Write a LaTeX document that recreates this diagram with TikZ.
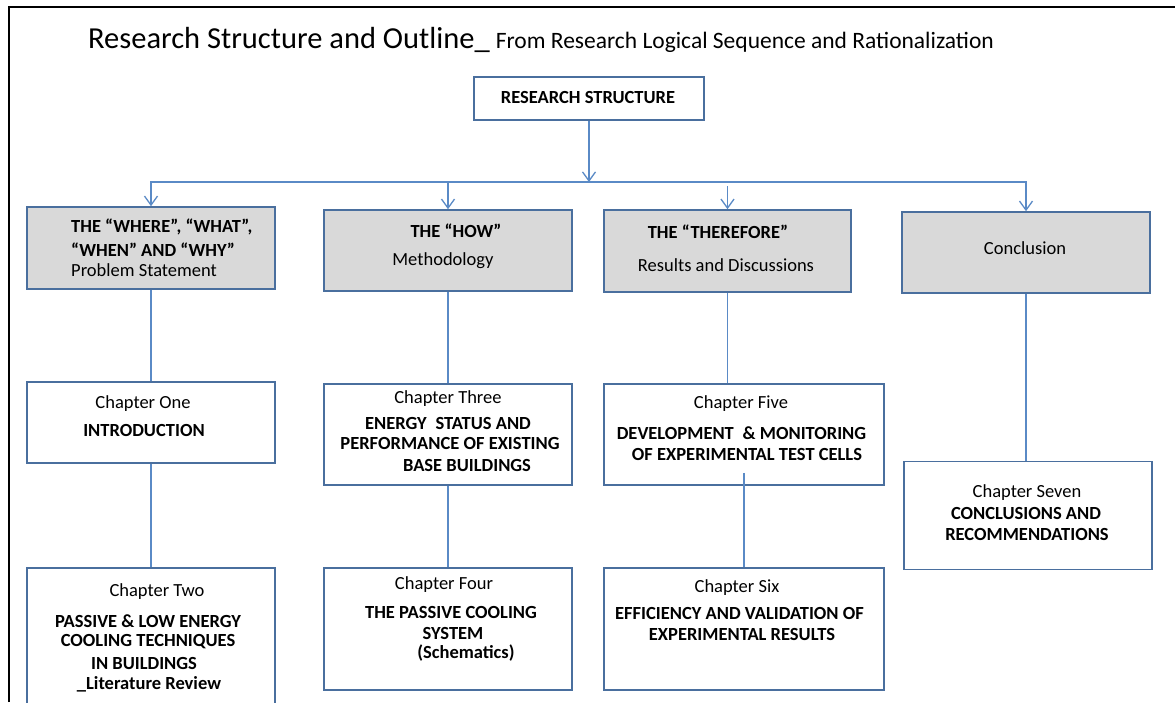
\documentclass[tikz,border=0pt]{standalone}
\usepackage{fontspec}
\setmainfont{Carlito}
\usetikzlibrary{arrows.meta}
\definecolor{boxline}{HTML}{4A6F9E}
\definecolor{connc}{HTML}{5A8AC6}
\definecolor{boxfill}{HTML}{D9D9D9}
\begin{document}
\begin{tikzpicture}[x=1pt,y=-1pt,
  box/.style={draw=boxline, line width=1.6pt, inner sep=0pt},
  gbox/.style={box, fill=boxfill},
  tn/.style={inner sep=0pt, font=\fontsize{18.5}{22}\selectfont},
  tb/.style={inner sep=0pt, font=\fontsize{18.5}{22}\selectfont\bfseries},
  conn/.style={draw=connc, line width=1.3pt},
  tip/.tip={Straight Barb[length=9pt,width=13pt]}]
\useasboundingbox (0,0) rectangle (1175,702);
\clip (0,0) rectangle (1175,702);
\fill[white] (0,0) rectangle (1175,702);
% frame
\draw[line width=2.5pt, black] (9,702) -- (9,7) -- (1175,7);
% title
\node[inner sep=0pt, anchor=base west] (title) at (88,48)
  {{\fontsize{30.5}{34}\selectfont Research Structure and Outline\_}\hspace{6pt}{\fontsize{23.5}{28}\selectfont From Research Logical Sequence and Rationalization}};
% boxes
\node[box, minimum width=230pt, minimum height=43pt] (rs) at (589,98.5) {};
\node[gbox, minimum width=248pt, minimum height=82pt] (b1) at (151,248) {};
\node[gbox, minimum width=248pt, minimum height=81pt] (b2) at (448,250.5) {};
\node[gbox, minimum width=247pt, minimum height=82pt] (b3) at (727.5,251) {};
\node[gbox, minimum width=248pt, minimum height=81pt] (b4) at (1026,252.5) {};
\node[box, minimum width=248pt, minimum height=81pt] (ch1) at (151,422.5) {};
\node[box, minimum width=248pt, minimum height=101pt] (ch3) at (448,434.5) {};
\node[box, minimum width=280pt, minimum height=101pt] (ch5) at (744,434.5) {};
\node[box, minimum width=248pt, minimum height=108pt] (ch7) at (1028,515.5) {};
\node[box, minimum width=248pt, minimum height=144pt] (ch2) at (151,640) {};
\node[box, minimum width=248pt, minimum height=122pt] (ch4) at (448,629) {};
\node[box, minimum width=280pt, minimum height=122pt] (ch6) at (744,629) {};
% texts
\node[tb] (rst) at (588,97) {RESEARCH STRUCTURE};
\node[tb, anchor=west] (b1a) at (71,227) {THE “WHERE”, “WHAT”,};
\node[tb, anchor=west] (b1b) at (71,250) {“WHEN” AND “WHY”};
\node[tn, anchor=west] (b1c) at (71,270) {Problem Statement};
\node[tb] (b2a) at (456,231) {THE “HOW”};
\node[tn] (b2b) at (443,261) {Methodology};
\node[tb] (b3a) at (718,232) {THE “THEREFORE”};
\node[tn] (b3b) at (726,265) {Results and Discussions};
\node[tn] (b4a) at (1025,248) {Conclusion};
\node[tn] (c1a) at (143,404) {Chapter One};
\node[tb] (c1b) at (144,430) {INTRODUCTION};
\node[tn] (c3a) at (448,399) {Chapter Three};
\node[tb] (c3b) at (448,423) {ENERGY\hspace{0.25em} STATUS AND};
\node[tb] (c3c) at (450,443) {PERFORMANCE OF EXISTING};
\node[tb] (c3d) at (467,465) {BASE BUILDINGS};
\node[tn] (c5a) at (741,404) {Chapter Five};
\node[tb] (c5b) at (741.5,433) {DEVELOPMENT\hspace{0.25em} \& MONITORING};
\node[tb] (c5c) at (747,454) {OF EXPERIMENTAL TEST CELLS};
\node[tn] (c7a) at (1027,493) {Chapter Seven};
\node[tb] (c7b) at (1026,513) {CONCLUSIONS AND};
\node[tb] (c7c) at (1027,534) {RECOMMENDATIONS};
\node[tn] (c2a) at (157,592) {Chapter Two};
\node[tb] (c2b) at (148,621) {PASSIVE \& LOW ENERGY};
\node[tb] (c2c) at (148,642) {COOLING TECHNIQUES};
\node[tb] (c2d) at (144,663) {IN BUILDINGS};
\node[tb] (c2e) at (149,684) {\_Literature Review};
\node[tn] (c4a) at (444,585) {Chapter Four};
\node[tb] (c4b) at (451,612) {THE PASSIVE COOLING};
\node[tb] (c4c) at (453,633) {SYSTEM};
\node[tb] (c4d) at (466,653) {(Schematics)};
\node[tn] (c6a) at (737,588) {Chapter Six};
\node[tb] (c6b) at (739.5,613) {EFFICIENCY AND VALIDATION OF};
\node[tb] (c6c) at (742,634) {EXPERIMENTAL RESULTS};
% connectors
\coordinate (hL) at (150,182);
\coordinate (hR) at (1027,182);
\draw[conn] (hL) -- (hR);
\draw[conn,-tip] (rs.south) -- (rs.south |- hL);
\draw[conn,-tip] (b1.north |- hL) -- (b1.north);
\draw[conn,-tip] (b2.north |- hL) -- (b2.north);
\draw[conn,-tip] ([yshift=-4pt]b3.north |- hL) -- (b3.north);
\draw[conn,-tip] (b4.north |- hL) -- (b4.north);
\draw[conn] (b1.south) -- (ch1.north);
\draw[conn] (b2.south) -- (ch3.north);
\draw[conn] (b3.south) -- (b3.south |- ch5.north);
\draw[conn] (b4.south) -- (b4.south |- ch7.north);
\draw[conn] (ch1.south) -- (ch2.north);
\draw[conn] (ch3.south) -- (ch4.north);
\draw[conn] ([yshift=13pt]ch5.south) -- (ch5.south |- ch6.north);
\end{tikzpicture}
\end{document}
